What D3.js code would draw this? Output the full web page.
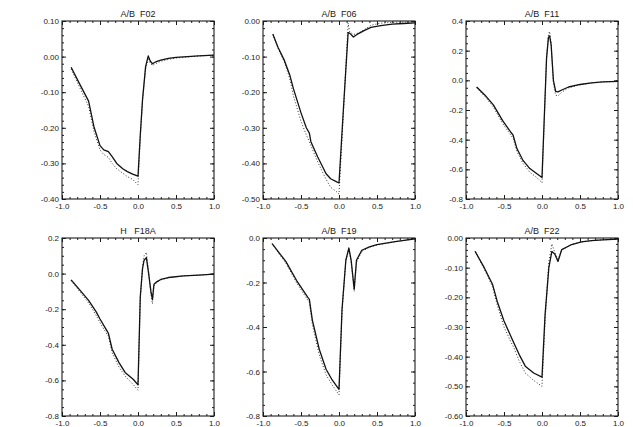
<!DOCTYPE html>
<html lang="en">
<head>
<meta charset="UTF-8">
<title>A/B profiles</title>
<script src="https://d3js.org/d3.v7.min.js"></script>
<style>
  body { margin: 0; background: #fff; }
  svg text { font-family: "Liberation Sans", Arial, sans-serif; fill: #1a1a1a; }
</style>
</head>
<body>
<svg width="633" height="427"></svg>
<script>
// sample positions and the two curves (solid, dotted) for each panel
const f02X      = [-0.88,-0.76,-0.65,-0.58,-0.50,-0.45,-0.39,-0.34,-0.28,-0.20,-0.14,-0.07,0.0,0.03,0.06,0.10,0.135,0.16,0.19,0.23,0.30,0.40,0.50,0.65,0.80,1.0];
const f02Solid  = [-0.03,-0.08,-0.125,-0.197,-0.25,-0.262,-0.267,-0.281,-0.30,-0.315,-0.323,-0.330,-0.336,-0.22,-0.12,-0.028,0.002,-0.012,-0.020,-0.015,-0.010,-0.005,-0.002,0.0,0.002,0.004];
const f02Dotted = [-0.035,-0.09,-0.14,-0.21,-0.262,-0.275,-0.283,-0.30,-0.315,-0.328,-0.337,-0.345,-0.36,-0.23,-0.12,-0.035,-0.008,-0.018,-0.025,-0.02,-0.013,-0.008,-0.004,-0.001,0.002,0.004];

const f06X      = [-0.87,-0.80,-0.72,-0.65,-0.60,-0.50,-0.43,-0.39,-0.37,-0.28,-0.17,-0.11,-0.03,0.0,0.06,0.12,0.14,0.19,0.25,0.33,0.42,0.55,0.70,0.85,1.0];
const f06Solid  = [-0.037,-0.075,-0.11,-0.15,-0.19,-0.258,-0.30,-0.315,-0.339,-0.382,-0.429,-0.443,-0.452,-0.455,-0.24,-0.033,-0.034,-0.045,-0.036,-0.027,-0.018,-0.013,-0.009,-0.007,-0.005];
const f06Dotted = [-0.037,-0.078,-0.115,-0.16,-0.21,-0.282,-0.32,-0.339,-0.35,-0.396,-0.445,-0.467,-0.480,-0.486,-0.25,-0.006,-0.03,-0.038,-0.034,-0.025,-0.012,-0.006,-0.004,-0.003,-0.003];

const f11X      = [-0.86,-0.75,-0.64,-0.52,-0.41,-0.38,-0.33,-0.25,-0.16,-0.08,0.0,0.03,0.06,0.085,0.10,0.12,0.15,0.18,0.21,0.26,0.35,0.50,0.65,0.80,1.0];
const f11Solid  = [-0.045,-0.10,-0.165,-0.27,-0.35,-0.37,-0.46,-0.54,-0.595,-0.625,-0.655,-0.25,0.15,0.29,0.30,0.24,0.0,-0.075,-0.078,-0.065,-0.045,-0.028,-0.017,-0.011,-0.007];
const f11Dotted = [-0.05,-0.11,-0.18,-0.29,-0.37,-0.39,-0.48,-0.56,-0.62,-0.65,-0.69,-0.27,0.15,0.31,0.33,0.25,-0.02,-0.10,-0.105,-0.08,-0.05,-0.03,-0.018,-0.011,-0.007];

const f18X      = [-0.88,-0.75,-0.65,-0.55,-0.50,-0.41,-0.39,-0.34,-0.25,-0.17,-0.06,0.0,0.03,0.06,0.08,0.11,0.14,0.17,0.19,0.21,0.25,0.30,0.40,0.60,0.80,1.0];
const f18Solid  = [-0.035,-0.10,-0.15,-0.215,-0.255,-0.32,-0.335,-0.425,-0.50,-0.555,-0.595,-0.625,-0.13,0.03,0.075,0.09,0.0,-0.10,-0.145,-0.06,-0.045,-0.033,-0.022,-0.013,-0.008,-0.003];
const f18Dotted = [-0.04,-0.11,-0.165,-0.235,-0.275,-0.34,-0.35,-0.445,-0.525,-0.575,-0.625,-0.655,-0.14,0.04,0.10,0.12,0.01,-0.12,-0.17,-0.07,-0.05,-0.035,-0.023,-0.013,-0.008,-0.003];

const f19X      = [-0.88,-0.78,-0.70,-0.56,-0.41,-0.39,-0.35,-0.26,-0.17,-0.09,0.0,0.04,0.09,0.13,0.16,0.20,0.23,0.30,0.40,0.50,0.74,1.0];
const f19Solid  = [-0.025,-0.07,-0.105,-0.19,-0.267,-0.276,-0.37,-0.50,-0.59,-0.638,-0.68,-0.32,-0.10,-0.045,-0.10,-0.23,-0.10,-0.055,-0.04,-0.03,-0.016,-0.004];
const f19Dotted = [-0.025,-0.075,-0.112,-0.20,-0.28,-0.29,-0.39,-0.525,-0.615,-0.66,-0.705,-0.33,-0.10,-0.05,-0.11,-0.24,-0.11,-0.06,-0.042,-0.031,-0.016,-0.004];

const f22X      = [-0.88,-0.76,-0.65,-0.59,-0.50,-0.41,-0.37,-0.30,-0.22,-0.11,0.0,0.04,0.09,0.13,0.17,0.21,0.26,0.39,0.52,0.65,0.80,1.0];
const f22Solid  = [-0.045,-0.10,-0.157,-0.213,-0.28,-0.331,-0.354,-0.393,-0.432,-0.455,-0.469,-0.26,-0.10,-0.045,-0.055,-0.079,-0.039,-0.022,-0.013,-0.009,-0.006,-0.004];
const f22Dotted = [-0.045,-0.105,-0.165,-0.225,-0.30,-0.35,-0.37,-0.415,-0.455,-0.48,-0.50,-0.28,-0.08,-0.02,-0.05,-0.072,-0.04,-0.022,-0.013,-0.009,-0.006,-0.004];

const panelTitles = ["A/B  F02", "A/B  F06", "A/B  F11", "H   F18A", "A/B  F19", "A/B  F22"];

// axis ticks
const xTicks = [-1.0, -0.5, 0.0, 0.5, 1.0];
const f02YTicks = [-0.40, -0.30, -0.20, -0.10, 0.00, 0.10];
const f06YTicks = [-0.50, -0.40, -0.30, -0.20, -0.10, 0.00];
const f11YTicks = [-0.8, -0.6, -0.4, -0.2, 0.0, 0.2, 0.4];
const f18YTicks = [-0.8, -0.6, -0.4, -0.2, 0.0, 0.2];
const f19YTicks = [-0.8, -0.6, -0.4, -0.2, 0.0];
const f22YTicks = [-0.60, -0.50, -0.40, -0.30, -0.20, -0.10, 0.00];

const panels = [
  { x: f02X, solid: f02Solid, dotted: f02Dotted, yTicks: f02YTicks, dec: 2, minor: 5 },
  { x: f06X, solid: f06Solid, dotted: f06Dotted, yTicks: f06YTicks, dec: 2, minor: 5 },
  { x: f11X, solid: f11Solid, dotted: f11Dotted, yTicks: f11YTicks, dec: 1, minor: 4 },
  { x: f18X, solid: f18Solid, dotted: f18Dotted, yTicks: f18YTicks, dec: 1, minor: 4 },
  { x: f19X, solid: f19Solid, dotted: f19Dotted, yTicks: f19YTicks, dec: 1, minor: 4 },
  { x: f22X, solid: f22Solid, dotted: f22Dotted, yTicks: f22YTicks, dec: 2, minor: 5 }
];

const colLeft = [62, 263, 466];
const rowTop = [21, 238];
const W = 152, H = 178;
const ink = "#1c1c1c";

const svg = d3.select("svg");

panels.forEach((p, i) => {
  const g = svg.append("g")
    .attr("transform", `translate(${colLeft[i % 3]},${rowTop[Math.floor(i / 3)]})`);

  const x = d3.scaleLinear().domain([-1, 1]).range([0, W]);
  const y = d3.scaleLinear().domain(d3.extent(p.yTicks)).range([H, 0]);

  const yStep = (p.yTicks[1] - p.yTicks[0]) / p.minor;
  const yMinor = d3.range(p.yTicks[0], p.yTicks[p.yTicks.length - 1] + yStep / 2, yStep);
  const xMinor = d3.range(-1, 1.05, 0.1);

  const clean = sel => sel.call(s => s.select(".domain").remove())
    .attr("color", ink);

  // minor ticks, all four sides
  g.append("g").attr("transform", `translate(0,${H})`)
    .call(d3.axisBottom(x).tickValues(xMinor).tickSize(-2).tickFormat("")).call(clean);
  g.append("g")
    .call(d3.axisTop(x).tickValues(xMinor).tickSize(-2).tickFormat("")).call(clean);
  g.append("g")
    .call(d3.axisLeft(y).tickValues(yMinor).tickSize(-2).tickFormat("")).call(clean);
  g.append("g").attr("transform", `translate(${W},0)`)
    .call(d3.axisRight(y).tickValues(yMinor).tickSize(-2).tickFormat("")).call(clean);

  // major ticks with labels on bottom and left
  g.append("g").attr("transform", `translate(0,${H})`)
    .call(d3.axisBottom(x).tickValues(xTicks).tickSize(-4).tickPadding(4)
      .tickFormat(d => d.toFixed(1)))
    .call(clean)
    .selectAll("text").attr("font-size", 8);
  g.append("g")
    .call(d3.axisTop(x).tickValues(xTicks).tickSize(-4).tickFormat("")).call(clean);
  g.append("g")
    .call(d3.axisLeft(y).tickValues(p.yTicks).tickSize(-4).tickPadding(3)
      .tickFormat(d => (Math.abs(d) < 1e-9 ? 0 : d).toFixed(p.dec)))
    .call(clean)
    .selectAll("text").attr("font-size", 8);
  g.append("g").attr("transform", `translate(${W},0)`)
    .call(d3.axisRight(y).tickValues(p.yTicks).tickSize(-4).tickFormat("")).call(clean);

  g.append("rect")
    .attr("width", W).attr("height", H)
    .attr("fill", "none").attr("stroke", ink).attr("stroke-width", 1.1);

  const line = d3.line()
    .x((d, k) => x(p.x[k]))
    .y(d => y(d));

  g.append("path").datum(p.dotted)
    .attr("d", line)
    .attr("fill", "none").attr("stroke", "#333")
    .attr("stroke-width", 1).attr("stroke-dasharray", "1,2");

  g.append("path").datum(p.solid)
    .attr("d", line)
    .attr("fill", "none").attr("stroke", "#111")
    .attr("stroke-width", 1.3).attr("stroke-linejoin", "round");

  g.append("text")
    .attr("x", W / 2).attr("y", -4)
    .attr("text-anchor", "middle")
    .attr("font-size", 9)
    .style("white-space", "pre")
    .text(panelTitles[i]);
});
</script>
</body>
</html>
